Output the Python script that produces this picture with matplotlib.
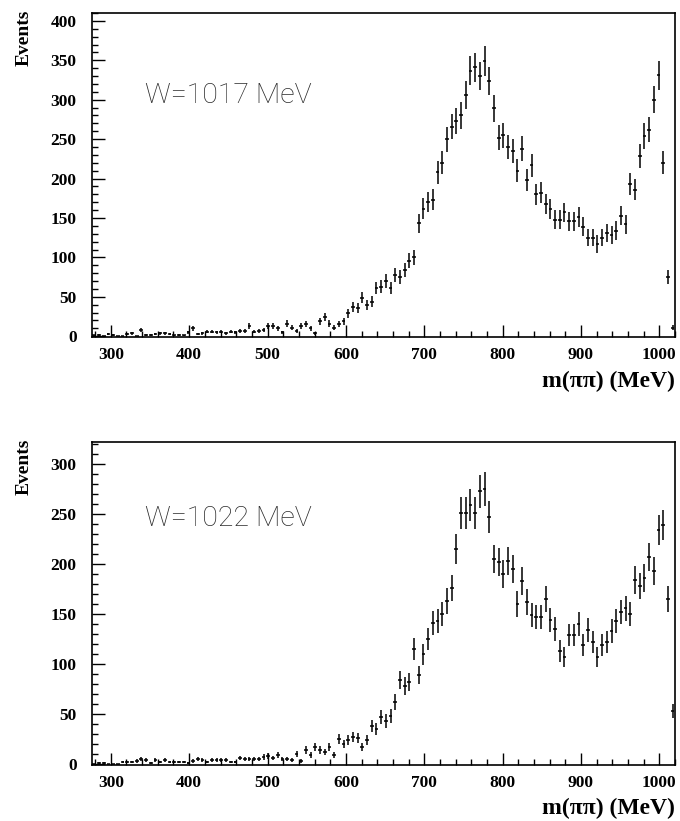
import numpy as np
import matplotlib
matplotlib.use('Agg')
import matplotlib.pyplot as plt
from matplotlib.ticker import MultipleLocator

# 6 MeV bins from 276 to 1020 MeV
bin_lo, bin_hi, bin_w = 276, 1020, 6
mass = np.arange(bin_lo + bin_w / 2, bin_hi, bin_w)

events_1017 = [
    1, 2, 0, 3, 2, 0, 0, 3, 4, 0, 8, 2, 2, 3, 4, 4, 3, 1, 2, 1,
    5, 10, 3, 4, 6, 6, 5, 6, 4, 6, 5, 7, 7, 13, 6, 7, 8, 13, 13, 10,
    5, 16, 11, 7, 13, 15, 10, 4, 19, 24, 16, 11, 15, 19, 29, 37, 36, 49, 40, 44,
    61, 63, 70, 61, 78, 75, 84, 96, 100, 143, 162, 170, 173, 208, 220, 250, 266, 273, 280, 306,
    337, 341, 330, 349, 324, 289, 252, 255, 240, 235, 210, 238, 198, 217, 180, 182, 168, 161, 148, 148,
    157, 146, 146, 151, 139, 125, 125, 117, 125, 131, 128, 134, 153, 142, 193, 186, 229, 254, 262, 300,
    331, 220, 75, 11,
]

events_1022 = [
    0, 1, 1, 0, 0, 0, 2, 2, 2, 3, 5, 4, 1, 4, 2, 4, 2, 2, 2, 2,
    1, 3, 5, 4, 2, 4, 4, 4, 4, 2, 2, 6, 5, 5, 5, 5, 7, 8, 6, 9,
    5, 5, 4, 10, 3, 14, 9, 17, 14, 12, 17, 9, 25, 20, 24, 27, 26, 17, 24, 38,
    35, 47, 43, 48, 62, 84, 78, 82, 115, 89, 110, 125, 141, 143, 150, 163, 176, 215, 251, 251,
    259, 251, 273, 275, 247, 205, 202, 190, 203, 195, 160, 183, 162, 149, 147, 147, 165, 144, 135, 113,
    107, 129, 129, 140, 119, 134, 122, 107, 119, 122, 133, 143, 152, 156, 150, 184, 178, 186, 207, 193,
    234, 239, 165, 53,
]

panels = [
    ('W=1017 MeV', events_1017, 410, 305),
    ('W=1022 MeV', events_1022, 322, 246),
]

serif = ['Liberation Serif', 'DejaVu Serif']

fig = plt.figure(figsize=(6.8, 8.21), dpi=100)
rects = [[0.1353, 0.5895, 0.8573, 0.3947],
         [0.1353, 0.0682, 0.8573, 0.3934]]

for rect, (label, counts, ymax, ytext) in zip(rects, panels):
    ax = fig.add_axes(rect)
    counts = np.array(counts, dtype=float)
    ax.errorbar(mass, counts, yerr=np.sqrt(counts), xerr=2.4,
                fmt='none', ecolor='black', elinewidth=1.1, capsize=0)
    ax.set_xlim(bin_lo, bin_hi)
    ax.set_ylim(-1, ymax)

    ax.xaxis.set_major_locator(MultipleLocator(100))
    ax.xaxis.set_minor_locator(MultipleLocator(20))
    ax.yaxis.set_major_locator(MultipleLocator(50))
    ax.yaxis.set_minor_locator(MultipleLocator(10))
    ax.tick_params(which='both', direction='in', top=False, right=False, width=1.0)
    ax.tick_params(which='major', length=9)
    ax.tick_params(which='minor', length=4.5)
    ax.tick_params(axis='y', pad=11)
    ax.tick_params(axis='x', pad=7)
    for t in ax.get_xticklabels() + ax.get_yticklabels():
        t.set_fontfamily(serif)
        t.set_fontweight('bold')
        t.set_fontsize(12.5)
    for sp in ax.spines.values():
        sp.set_linewidth(1.2)

    ax.text(344, ytext, label, fontsize=20.5, family=['Roboto', 'DejaVu Sans'],
            fontweight='light', color='#2a2a2a', va='center', ha='left')

    ax.set_ylabel('Events', family=serif, fontweight='bold', fontsize=14)
    ax.yaxis.set_label_coords(-0.101, 1.01)
    ax.yaxis.label.set_va('bottom')
    ax.yaxis.label.set_ha('right')
    ax.set_xlabel('m(ππ) (MeV)', family=serif, fontweight='bold', fontsize=17)
    ax.xaxis.set_label_coords(1.0, -0.103)
    ax.xaxis.label.set_ha('right')

fig.savefig('out.png', dpi=100)
